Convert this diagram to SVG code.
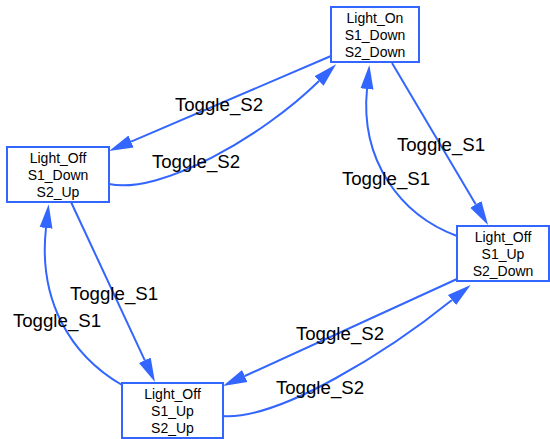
<svg xmlns="http://www.w3.org/2000/svg" width="550" height="439" viewBox="0 0 550 439">
<style>
.node rect{fill:#ffffff;stroke:#3366ff;stroke-width:2}
.node text{font-family:"Liberation Sans",Arial,sans-serif;font-size:14px;fill:#000;text-anchor:middle}
.edge path{fill:none;stroke:#3366ff;stroke-width:2}
.lbl{font-family:"Liberation Sans",Arial,sans-serif;font-size:18.67px;fill:#000;text-anchor:middle}
</style>
<defs>
<marker id="ah" markerUnits="userSpaceOnUse" markerWidth="26" markerHeight="16" refX="0" refY="7" orient="auto" viewBox="0 0 26 14">
<polygon points="0,0.5 24,7 0,13.5" fill="#3366ff"/>
</marker>
</defs>
<rect width="550" height="439" fill="#ffffff"/>
<g id="connectors" class="edge">
<path d="M331,56 L131.1,141.6" marker-end="url(#ah)"/>
<path d="M109,184 C160,195 262,137 319,81" marker-end="url(#ah)"/>
<path d="M392,63 L475.8,204.4" marker-end="url(#ah)"/>
<path d="M457,236 C400,215 360,160 367,89" marker-end="url(#ah)"/>
<path d="M71,202 L144.8,360.3" marker-end="url(#ah)"/>
<path d="M122,385 C70,355 38,300 46,228" marker-end="url(#ah)"/>
<path d="M457,279 L244.8,376" marker-end="url(#ah)"/>
<path d="M223,416 C280,420 390,350 452,300" marker-end="url(#ah)"/>
<text class="lbl" x="219" y="111">Toggle_S2</text>
<text class="lbl" x="196" y="168">Toggle_S2</text>
<text class="lbl" x="441" y="151">Toggle_S1</text>
<text class="lbl" x="386" y="185">Toggle_S1</text>
<text class="lbl" x="114" y="300">Toggle_S1</text>
<text class="lbl" x="57" y="327">Toggle_S1</text>
<text class="lbl" x="340" y="340">Toggle_S2</text>
<text class="lbl" x="320" y="394">Toggle_S2</text>
</g>
<g id="light_on" class="node">
<rect x="331" y="7" width="88" height="55"/>
<text x="375" y="23">Light_On</text>
<text x="375" y="40">S1_Down</text>
<text x="375" y="57">S2_Down</text>
</g>
<g id="off_s1down_s2up" class="node">
<rect x="7" y="147" width="102" height="55"/>
<text x="58" y="163">Light_Off</text>
<text x="58" y="180">S1_Down</text>
<text x="58" y="197">S2_Up</text>
</g>
<g id="off_s1up_s2down" class="node">
<rect x="457" y="226" width="92" height="55"/>
<text x="503" y="242">Light_Off</text>
<text x="503" y="259">S1_Up</text>
<text x="503" y="276">S2_Down</text>
</g>
<g id="off_s1up_s2up" class="node">
<rect x="122" y="383" width="101" height="55"/>
<text x="172.5" y="399">Light_Off</text>
<text x="172.5" y="416">S1_Up</text>
<text x="172.5" y="433">S2_Up</text>
</g>
</svg>
